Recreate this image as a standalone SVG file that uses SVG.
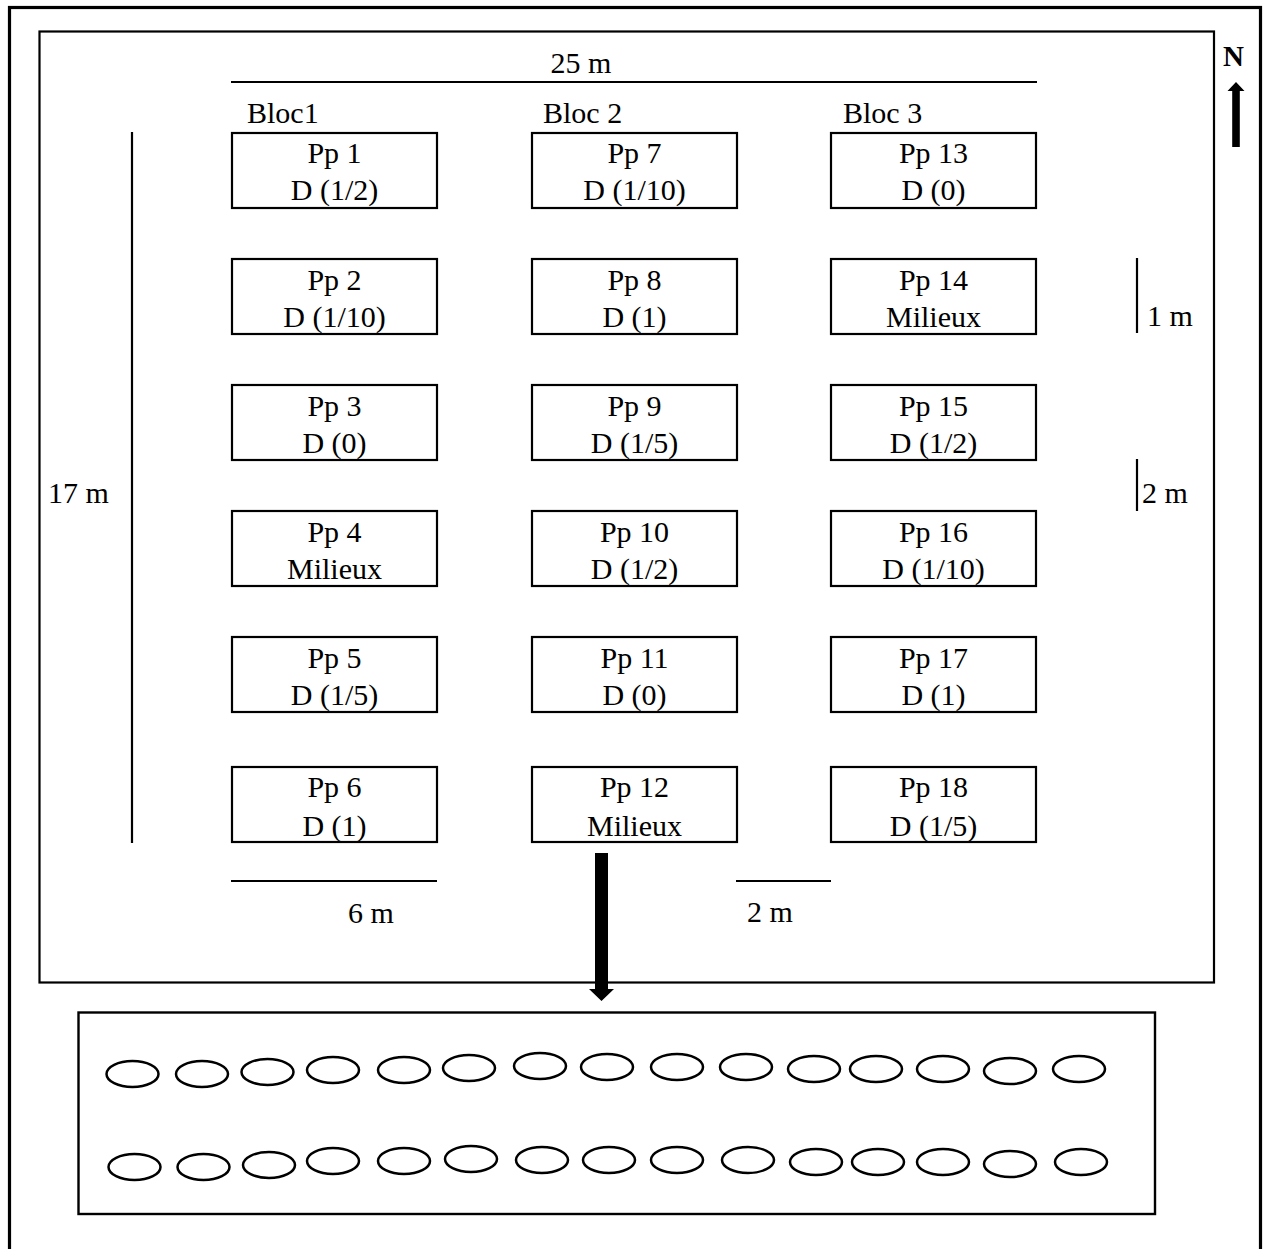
<svg xmlns="http://www.w3.org/2000/svg" width="1265" height="1249" viewBox="0 0 1265 1249">
<style>
text{font-family:"Liberation Serif","Times New Roman",serif;font-size:30px;fill:#000}
.c{text-anchor:middle}
.plot{fill:#fff;stroke:#000;stroke-width:2.2}
.dim{stroke:#000;stroke-width:2.2;fill:none}
.pot{fill:none;stroke:#000;stroke-width:2.5}
</style>
<rect width="1265" height="1249" fill="#fff"/>
<rect id="outer-frame" x="9.5" y="7.5" width="1251" height="1260" fill="none" stroke="#000" stroke-width="3.2"/>
<rect id="field" x="39.5" y="31.5" width="1174.5" height="951" fill="none" stroke="#000" stroke-width="2.2"/>

<g id="dimensions">
<line class="dim" x1="231" y1="82" x2="1037" y2="82"/>
<text class="c" x="581" y="73">25 m</text>
<line class="dim" x1="132" y1="132" x2="132" y2="843"/>
<text x="48" y="503">17 m</text>
<line class="dim" x1="1137" y1="258" x2="1137" y2="333"/>
<text x="1147" y="326">1 m</text>
<line class="dim" x1="1137" y1="459" x2="1137" y2="511"/>
<text x="1142" y="503">2 m</text>
<line class="dim" x1="231" y1="881" x2="437" y2="881"/>
<text x="348" y="923">6 m</text>
<line class="dim" x1="736" y1="881" x2="831" y2="881"/>
<text x="747" y="922">2 m</text>
</g>

<g id="north">
<text x="1223" y="66" style="font-weight:bold;font-size:29px">N</text>
<path d="M1236 82 L1244.5 91 L1239.8 91 L1239.8 147 L1232.2 147 L1232.2 91 L1227.5 91 Z" fill="#000"/>
</g>

<g id="block-labels">
<text x="247" y="123">Bloc1</text>
<text x="543" y="123">Bloc 2</text>
<text x="843" y="123">Bloc 3</text>
</g>

<g id="pp1"><rect class="plot" x="232" y="133" width="205" height="75"/><text class="c" x="334.5" y="163">Pp 1</text><text class="c" x="334.5" y="200">D (1/2)</text></g>
<g id="pp2"><rect class="plot" x="232" y="259" width="205" height="75"/><text class="c" x="334.5" y="290">Pp 2</text><text class="c" x="334.5" y="327">D (1/10)</text></g>
<g id="pp3"><rect class="plot" x="232" y="385" width="205" height="75"/><text class="c" x="334.5" y="416">Pp 3</text><text class="c" x="334.5" y="453">D (0)</text></g>
<g id="pp4"><rect class="plot" x="232" y="511" width="205" height="75"/><text class="c" x="334.5" y="542">Pp 4</text><text class="c" x="334.5" y="579">Milieux</text></g>
<g id="pp5"><rect class="plot" x="232" y="637" width="205" height="75"/><text class="c" x="334.5" y="668">Pp 5</text><text class="c" x="334.5" y="705">D (1/5)</text></g>
<g id="pp6"><rect class="plot" x="232" y="767" width="205" height="75"/><text class="c" x="334.5" y="797">Pp 6</text><text class="c" x="334.5" y="836">D (1)</text></g>

<g id="pp7"><rect class="plot" x="532" y="133" width="205" height="75"/><text class="c" x="634.5" y="163">Pp 7</text><text class="c" x="634.5" y="200">D (1/10)</text></g>
<g id="pp8"><rect class="plot" x="532" y="259" width="205" height="75"/><text class="c" x="634.5" y="290">Pp 8</text><text class="c" x="634.5" y="327">D (1)</text></g>
<g id="pp9"><rect class="plot" x="532" y="385" width="205" height="75"/><text class="c" x="634.5" y="416">Pp 9</text><text class="c" x="634.5" y="453">D (1/5)</text></g>
<g id="pp10"><rect class="plot" x="532" y="511" width="205" height="75"/><text class="c" x="634.5" y="542">Pp 10</text><text class="c" x="634.5" y="579">D (1/2)</text></g>
<g id="pp11"><rect class="plot" x="532" y="637" width="205" height="75"/><text class="c" x="634.5" y="668">Pp 11</text><text class="c" x="634.5" y="705">D (0)</text></g>
<g id="pp12"><rect class="plot" x="532" y="767" width="205" height="75"/><text class="c" x="634.5" y="797">Pp 12</text><text class="c" x="634.5" y="836">Milieux</text></g>

<g id="pp13"><rect class="plot" x="831" y="133" width="205" height="75"/><text class="c" x="933.5" y="163">Pp 13</text><text class="c" x="933.5" y="200">D (0)</text></g>
<g id="pp14"><rect class="plot" x="831" y="259" width="205" height="75"/><text class="c" x="933.5" y="290">Pp 14</text><text class="c" x="933.5" y="327">Milieux</text></g>
<g id="pp15"><rect class="plot" x="831" y="385" width="205" height="75"/><text class="c" x="933.5" y="416">Pp 15</text><text class="c" x="933.5" y="453">D (1/2)</text></g>
<g id="pp16"><rect class="plot" x="831" y="511" width="205" height="75"/><text class="c" x="933.5" y="542">Pp 16</text><text class="c" x="933.5" y="579">D (1/10)</text></g>
<g id="pp17"><rect class="plot" x="831" y="637" width="205" height="75"/><text class="c" x="933.5" y="668">Pp 17</text><text class="c" x="933.5" y="705">D (1)</text></g>
<g id="pp18"><rect class="plot" x="831" y="767" width="205" height="75"/><text class="c" x="933.5" y="797">Pp 18</text><text class="c" x="933.5" y="836">D (1/5)</text></g>

<g id="connectors">
<path d="M595 853 L608 853 L608 989 L614 989 L601.5 1001 L589 989 L595 989 Z" fill="#000"/>
</g>

<g id="plot-detail">
<rect x="78.5" y="1012.5" width="1076.5" height="201.5" fill="none" stroke="#000" stroke-width="2.4"/>
<g class="pots">
<ellipse class="pot" cx="132.5" cy="1074" rx="26" ry="13"/>
<ellipse class="pot" cx="202" cy="1074" rx="26" ry="13"/>
<ellipse class="pot" cx="267.5" cy="1072" rx="26" ry="13"/>
<ellipse class="pot" cx="333" cy="1070" rx="26" ry="13"/>
<ellipse class="pot" cx="404" cy="1070" rx="26" ry="13"/>
<ellipse class="pot" cx="469" cy="1068" rx="26" ry="13"/>
<ellipse class="pot" cx="540" cy="1066" rx="26" ry="13"/>
<ellipse class="pot" cx="607" cy="1067" rx="26" ry="13"/>
<ellipse class="pot" cx="677" cy="1067" rx="26" ry="13"/>
<ellipse class="pot" cx="746" cy="1067" rx="26" ry="13"/>
<ellipse class="pot" cx="814" cy="1069" rx="26" ry="13"/>
<ellipse class="pot" cx="876" cy="1069" rx="26" ry="13"/>
<ellipse class="pot" cx="943" cy="1069" rx="26" ry="13"/>
<ellipse class="pot" cx="1010" cy="1071" rx="26" ry="13"/>
<ellipse class="pot" cx="1079" cy="1069" rx="26" ry="13"/>
<ellipse class="pot" cx="134.5" cy="1167" rx="26" ry="13"/>
<ellipse class="pot" cx="203.5" cy="1167" rx="26" ry="13"/>
<ellipse class="pot" cx="269" cy="1165" rx="26" ry="13"/>
<ellipse class="pot" cx="333" cy="1161" rx="26" ry="13"/>
<ellipse class="pot" cx="404" cy="1161" rx="26" ry="13"/>
<ellipse class="pot" cx="471" cy="1159" rx="26" ry="13"/>
<ellipse class="pot" cx="542" cy="1160" rx="26" ry="13"/>
<ellipse class="pot" cx="609" cy="1160" rx="26" ry="13"/>
<ellipse class="pot" cx="677" cy="1160" rx="26" ry="13"/>
<ellipse class="pot" cx="748" cy="1160" rx="26" ry="13"/>
<ellipse class="pot" cx="816" cy="1162" rx="26" ry="13"/>
<ellipse class="pot" cx="878" cy="1162" rx="26" ry="13"/>
<ellipse class="pot" cx="943" cy="1162" rx="26" ry="13"/>
<ellipse class="pot" cx="1010" cy="1164" rx="26" ry="13"/>
<ellipse class="pot" cx="1081" cy="1162" rx="26" ry="13"/>
</g>
</g>
</svg>
